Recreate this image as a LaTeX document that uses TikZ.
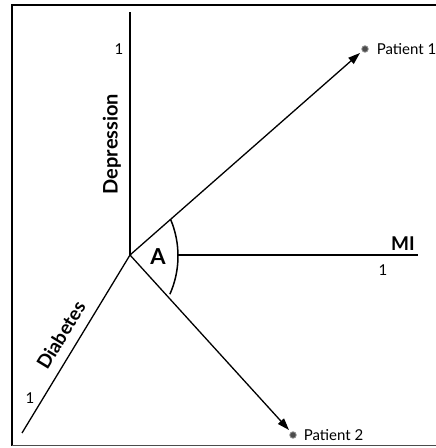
\documentclass[tikz,border=0pt]{standalone}
\usepackage{fontspec}
\setmainfont{Lato}
\usetikzlibrary{arrows.meta}
\begin{document}
\begin{tikzpicture}[x=1pt,y=1pt,
  axis/.style={line width=1.3pt},
  vec/.style={line width=1.3pt,-{Triangle[length=12pt,width=8pt]}},
  dot/.style={circle,fill=black!70,draw=black!45,line width=0.8pt,inner sep=0pt,minimum size=6.5pt},
  lbl/.style={inner sep=0pt,font=\fontsize{15}{15}\selectfont},
  big/.style={inner sep=0pt,font=\fontsize{20}{20}\selectfont\bfseries}]
\useasboundingbox (0,0) rectangle (436,448);
% frame
\draw[line width=2pt] (11.5,2) -- (11.5,443) -- (436,443);
\draw[line width=1pt,black!70] (11.5,2) -- (436,2);
% coordinates
\coordinate (O) at (130,193);
\coordinate (Dtop) at (130,436);
\coordinate (Mstart) at (178,193);
\coordinate (Mend) at (418,193);
\coordinate (Dend) at (22,15);
\node[dot] (p1) at (365,399) {};
\node[dot] (p2) at (293,13) {};
\coordinate (t1) at (360,395);
\coordinate (t2) at (289,18);
% axes
\draw[axis] (O) -- (Dtop);
\draw[axis] (Mstart) -- (Mend);
\draw[axis] (O) -- (Dend);
\draw[vec] (O) -- (t1);
\draw[vec] (O) -- (t2);
% angle arc
\draw[line width=1.5pt] (84,192) ++(23:94) arc (23:-24:94);
% labels
\node[lbl] (one1) at (119,399) {1};
\node[big,rotate=90] (dep) at (112,304) {Depression};
\node[big,font=\fontsize{19}{19}\selectfont\bfseries] (mi) at (403,204) {MI};
\node[lbl] (one2) at (383,178) {1};
\node[big,rotate=58.7,font=\fontsize{19}{19}\selectfont\bfseries] (dia) at (61,113) {Diabetes};
\node[lbl] (one3) at (30,50) {1};
\node[big,font=\fontsize{22}{22}\selectfont\bfseries] (A) at (158,191) {A};
\node[lbl,anchor=west] (l1) at (p1.east) {\hspace{8pt}Patient 1};
\node[lbl,anchor=west] (l2) at (p2.east) {\hspace{7pt}Patient 2};
\end{tikzpicture}
\end{document}
